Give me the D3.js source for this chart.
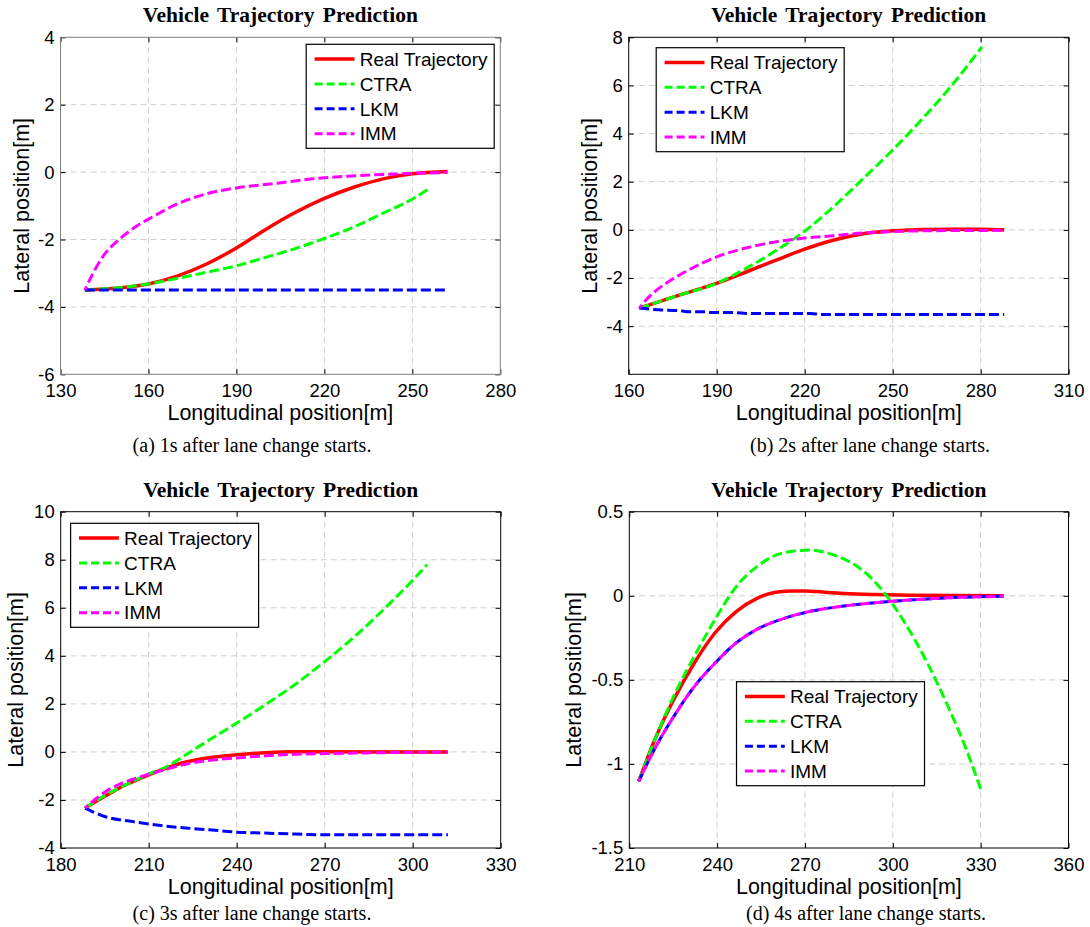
<!DOCTYPE html>
<html><head><meta charset="utf-8">
<script src="https://cdn.jsdelivr.net/npm/d3@7"></script>
<style>body{margin:0;background:#fff}</style>
</head><body>
<svg id="chart" width="1090" height="927"></svg>
<script>
// ---------------- data ----------------
const seriesNames = ["Real Trajectory", "CTRA", "LKM", "IMM"];
const titleText = "Vehicle Trajectory Prediction";
const xLabelText = "Longitudinal position[m]";
const yLabelText = "Lateral position[m]";
const captions = ["(a) 1s after lane change starts.", "(b) 2s after lane change starts.",
                  "(c) 3s after lane change starts.", "(d) 4s after lane change starts."];

// panel (a)
const aXTicks = [130, 160, 190, 220, 250, 280];
const aYTicks = [-6, -4, -2, 0, 2, 4];
const aReal = [[138.3,-3.5],[150,-3.44],[160,-3.32],[170,-3.08],[180,-2.72],[190,-2.25],[200,-1.7],[210,-1.2],[220,-0.78],[230,-0.45],[240,-0.2],[250,-0.05],[262,0.02]];
const aCTRA = [[138.3,-3.5],[150,-3.43],[160,-3.32],[170,-3.15],[180,-2.97],[190,-2.78],[200,-2.53],[210,-2.27],[220,-1.97],[230,-1.63],[240,-1.22],[250,-0.8],[255.6,-0.5]];
const aLKM  = [[138.3,-3.5],[160,-3.5],[200,-3.5],[240,-3.5],[262,-3.5]];
const aIMM  = [[138.3,-3.5],[141,-3.02],[144.5,-2.5],[150,-2.0],[156,-1.6],[162,-1.3],[168,-1.02],[174,-0.8],[180,-0.64],[190,-0.47],[204,-0.33],[216,-0.2],[228,-0.12],[240,-0.07],[250,-0.04],[262,-0.01]];

// panel (b)
const bXTicks = [160, 190, 220, 250, 280, 310];
const bYTicks = [-4, -2, 0, 2, 4, 6, 8];
const bReal = [[163.6,-3.25],[170,-3.0],[177,-2.72],[185,-2.42],[190,-2.22],[200,-1.75],[210,-1.27],[220,-0.8],[230,-0.42],[240,-0.16],[250,-0.04],[260,0.02],[270,0.03],[280,0.03],[288,0]];
const bCTRA = [[163.6,-3.25],[170,-3.0],[177,-2.72],[190,-2.22],[200,-1.6],[210,-0.88],[220,-0.05],[230,0.98],[240,2.14],[250,3.32],[260,4.6],[270,5.98],[280.4,7.6]];
const bLKM  = [[163.6,-3.25],[170,-3.32],[177,-3.35],[180,-3.4],[186,-3.4],[188,-3.43],[197,-3.44],[200,-3.47],[222,-3.47],[226,-3.52],[288,-3.52]];
const bIMM  = [[163.6,-3.25],[166,-2.9],[169.5,-2.5],[173,-2.2],[177,-1.9],[183,-1.5],[190,-1.12],[200,-0.75],[210,-0.5],[220,-0.34],[230,-0.24],[240,-0.13],[250,-0.07],[260,-0.04],[288,-0.02]];

// panel (c)
const cXTicks = [180, 210, 240, 270, 300, 330];
const cYTicks = [-4, -2, 0, 2, 4, 6, 8, 10];
const cReal = [[188.3,-2.34],[195,-1.85],[200,-1.5],[205,-1.22],[210,-0.96],[215,-0.72],[221,-0.47],[230,-0.25],[240,-0.12],[250,-0.03],[258,0.01],[312,0.0]];
const cCTRA = [[188.3,-2.34],[195,-1.82],[200,-1.5],[205,-1.2],[210,-0.92],[216,-0.62],[221,-0.25],[230,0.45],[240,1.2],[250,1.98],[260,2.82],[270,3.76],[280,4.78],[290,5.92],[300,7.15],[304.9,7.8]];
const cLKM  = [[188.3,-2.34],[195,-2.69],[204.4,-2.9],[210,-3.0],[221,-3.15],[230.5,-3.24],[240,-3.34],[249.4,-3.38],[260,-3.42],[270,-3.45],[312,-3.45]];
const cIMM  = [[188.3,-2.34],[192,-1.95],[196,-1.6],[200,-1.35],[205,-1.12],[210,-0.93],[216,-0.72],[221,-0.55],[230,-0.36],[240,-0.25],[250,-0.16],[260,-0.1],[270,-0.07],[285,-0.04],[312,-0.01]];

// panel (d)
const dXTicks = [210, 240, 270, 300, 330, 360];
const dYTicks = [-1.5, -1, -0.5, 0, 0.5];
const dReal = [[213.2,-1.104],[219.1,-0.84],[225.1,-0.62],[232.2,-0.4],[239.3,-0.22],[246.5,-0.094],[253.6,-0.015],[259.5,0.019],[265,0.028],[270.2,0.029],[276,0.022],[282,0.015],[288,0.01],[294,0.007],[305.8,0.003],[337.9,0]];
const dCTRA = [[213.2,-1.104],[219.1,-0.84],[225.1,-0.6],[232.2,-0.36],[239.3,-0.14],[246.5,0.054],[253.6,0.173],[261.9,0.252],[271.4,0.272],[279.7,0.243],[288,0.173],[296.3,0.035],[303.5,-0.144],[311.8,-0.4],[318.9,-0.66],[324.8,-0.9],[330.2,-1.16]];
const dLKM  = [[213.2,-1.104],[219.1,-0.896],[225.1,-0.72],[232.2,-0.54],[239.3,-0.4],[246.5,-0.28],[253.6,-0.2],[261.9,-0.14],[271.4,-0.094],[282,-0.064],[294,-0.041],[305.8,-0.025],[317.7,-0.013],[337.9,-0.003]];
const dIMM  = [[213.2,-1.104],[219.1,-0.896],[225.1,-0.72],[232.2,-0.54],[239.3,-0.4],[246.5,-0.28],[253.6,-0.2],[261.9,-0.14],[271.4,-0.094],[282,-0.064],[294,-0.041],[305.8,-0.025],[317.7,-0.013],[337.9,-0.003]];

// ---------------- layout / style ----------------
const colors = ["#ff0000", "#00ff00", "#0000ff", "#ff00ff"];
const widths = [3.5, 3, 3, 3];
const dashes = [null, "10,4", "10,4", "10,4"];
const dashOffsets = [0, 0, 0, 6];
const legendDashes = [null, "8,4", "8,4", "8,4"];
const sans = "'Liberation Sans', Arial, sans-serif";
const serif = "'Liberation Serif', 'Times New Roman', serif";

const panels = [
  {xDomain:[130,280], yDomain:[-6,4], xTicks:aXTicks, yTicks:aYTicks, data:[aReal,aCTRA,aLKM,aIMM],
   box:{l:60.5, r:500.3, t:37.3, b:374.3}, legend:[306.2,44.3], ylabOff:31.5, capX:252, capY:452, frame:"#808080", caption:captions[0]},
  {xDomain:[160,310], yDomain:[-6,8], xTicks:bXTicks, yTicks:bYTicks, data:[bReal,bCTRA,bLKM,bIMM],
   box:{l:628.7, r:1068.7, t:37.3, b:374.3}, legend:[656.2,47.7], ylabOff:31.7, capX:870, capY:452, frame:"#000", caption:captions[1]},
  {xDomain:[180,330], yDomain:[-4,10], xTicks:cXTicks, yTicks:cYTicks, data:[cReal,cCTRA,cLKM,cIMM],
   box:{l:60.7, r:500.7, t:511.7, b:848}, legend:[70.6,523.3], ylabOff:37.7, capX:252, capY:920, frame:"#000", caption:captions[2]},
  {xDomain:[210,360], yDomain:[-1.5,0.5], xTicks:dXTicks, yTicks:dYTicks, data:[dReal,dCTRA,dLKM,dIMM],
   box:{l:629.3, r:1068.5, t:511.7, b:848}, legend:[736.5,681.7], ylabOff:48.7, capX:866, capY:920, frame:"#000", caption:captions[3]}
];

const svg = d3.select("#chart");
svg.append("rect").attr("width",1090).attr("height",927).attr("fill","#fff");

panels.forEach(p => {
  const {l, r, t, b} = p.box;
  const x = d3.scaleLinear().domain(p.xDomain).range([l, r]);
  const y = d3.scaleLinear().domain(p.yDomain).range([b, t]);
  const g = svg.append("g");
  const fmt = d => String(d);

  // grid
  const grid = g.append("g").attr("stroke", "#cfcfcf").attr("stroke-width", 1).attr("stroke-dasharray", "6,4");
  p.xTicks.forEach(v => { if (v > p.xDomain[0] && v < p.xDomain[1])
    grid.append("line").attr("x1", x(v)).attr("x2", x(v)).attr("y1", t).attr("y2", b); });
  p.yTicks.forEach(v => { if (v > p.yDomain[0] && v < p.yDomain[1])
    grid.append("line").attr("y1", y(v)).attr("y2", y(v)).attr("x1", l).attr("x2", r); });

  // axes (inner ticks, labels)
  const xAxis = d3.axisBottom(x).tickValues(p.xTicks).tickFormat(fmt).tickSize(-5).tickPadding(10);
  const gx = g.append("g").attr("transform", `translate(0,${b})`).call(xAxis);
  gx.select(".domain").remove();
  gx.selectAll("line").attr("stroke", "#000");
  gx.selectAll("text").attr("font-family", sans).attr("font-size", 18.5).attr("fill", "#000");

  const yAxis = d3.axisLeft(y).tickValues(p.yTicks).tickFormat(fmt).tickSize(-5).tickPadding(6);
  const gy = g.append("g").attr("transform", `translate(${l},0)`).call(yAxis);
  gy.select(".domain").remove();
  gy.selectAll("line").attr("stroke", "#000");
  gy.selectAll("text").attr("font-family", sans).attr("font-size", 18.5).attr("fill", "#000");

  const xAxisTop = d3.axisTop(x).tickValues(p.xTicks).tickFormat("").tickSize(-5);
  const gxt = g.append("g").attr("transform", `translate(0,${t})`).call(xAxisTop);
  gxt.select(".domain").remove(); gxt.selectAll("line").attr("stroke", "#000");
  const yAxisR = d3.axisRight(y).tickValues(p.yTicks).tickFormat("").tickSize(-5);
  const gyr = g.append("g").attr("transform", `translate(${r},0)`).call(yAxisR);
  gyr.select(".domain").remove(); gyr.selectAll("line").attr("stroke", "#000");

  // frame
  g.append("rect").attr("x", l).attr("y", t).attr("width", r - l).attr("height", b - t)
    .attr("fill", "none").attr("stroke", p.frame).attr("stroke-width", 1);

  // series
  const line = d3.line().x(d => x(d[0])).y(d => y(d[1])).curve(d3.curveMonotoneX);
  p.data.forEach((s, i) => {
    g.append("path").datum(s).attr("d", line).attr("fill", "none")
      .attr("stroke", colors[i]).attr("stroke-width", widths[i])
      .attr("stroke-dasharray", dashes[i]).attr("stroke-dashoffset", dashOffsets[i])
      .attr("stroke-linejoin", "round");
  });

  // title
  g.append("text").attr("x", (l + r) / 2).attr("y", t - 15).attr("text-anchor", "middle")
    .attr("font-family", serif).attr("font-weight", "bold").attr("font-size", 21.5)
    .attr("word-spacing", 3).text(titleText);

  // axis labels
  g.append("text").attr("x", (l + r) / 2).attr("y", b + 46).attr("text-anchor", "middle")
    .attr("font-family", sans).attr("font-size", 21.5).text(xLabelText);
  g.append("text").attr("transform", `translate(${l - p.ylabOff},${(t + b) / 2}) rotate(-90)`)
    .attr("text-anchor", "middle").attr("font-family", sans).attr("font-size", 21.5).text(yLabelText);

  // caption
  g.append("text").attr("x", p.capX).attr("y", p.capY).attr("text-anchor", "middle")
    .attr("font-family", serif).attr("font-size", 20).text(p.caption);

  // legend
  const [lx, ly] = p.legend;
  const lg = g.append("g").attr("transform", `translate(${lx},${ly})`);
  lg.append("rect").attr("width", 188).attr("height", 104).attr("fill", "#fff")
    .attr("stroke", "#000").attr("stroke-width", 1.2);
  seriesNames.forEach((name, i) => {
    const yy = 14.7 + i * 24.9;
    lg.append("line").attr("x1", 8.4).attr("x2", 48.3).attr("y1", yy).attr("y2", yy)
      .attr("stroke", colors[i]).attr("stroke-width", widths[i]).attr("stroke-dasharray", legendDashes[i]);
    lg.append("text").attr("x", 53.5).attr("y", yy + 6.8).attr("font-family", sans)
      .attr("font-size", 19).text(name);
  });
});
</script>
</body></html>
